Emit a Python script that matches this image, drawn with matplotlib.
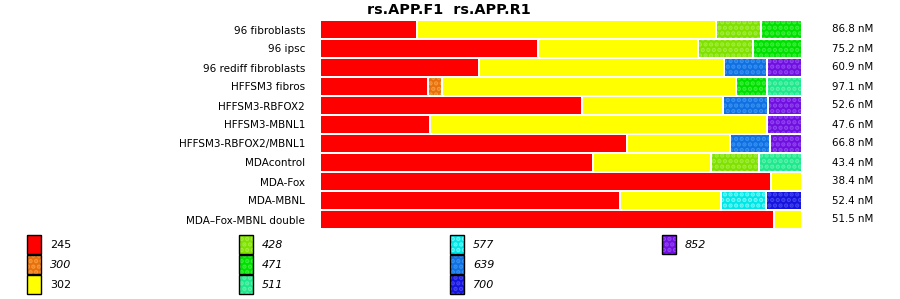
import matplotlib
matplotlib.use("Agg")
import matplotlib.pyplot as plt
from matplotlib.patches import Rectangle
import matplotlib.transforms as mtransforms

samples = ["96 fibroblasts", "96 ipsc", "96 rediff fibroblasts", "HFFSM3 fibros",
           "HFFSM3-RBFOX2", "HFFSM3-MBNL1", "HFFSM3-RBFOX2/MBNL1", "MDAcontrol",
           "MDA-Fox", "MDA-MBNL", "MDA\u2013Fox-MBNL double"]
concentrations = ["86.8 nM", "75.2 nM", "60.9 nM", "97.1 nM", "52.6 nM", "47.6 nM",
                  "66.8 nM", "43.4 nM", "38.4 nM", "52.4 nM", "51.5 nM"]

# percent of each product per sample, keyed by product size
segments = [
    [("245", 20.2), ("302", 62.3), ("428", 9.4), ("471", 8.1)],
    [("245", 45.4), ("302", 33.3), ("428", 11.5), ("471", 9.8)],
    [("245", 33.1), ("302", 51.0), ("639", 9.0), ("852", 6.9)],
    [("245", 22.5), ("300", 2.9), ("302", 61.3), ("471", 6.5), ("511", 6.8)],
    [("245", 54.6), ("302", 29.4), ("639", 9.4), ("852", 6.6)],
    [("245", 22.9), ("302", 70.2), ("852", 6.9)],
    [("245", 64.0), ("302", 21.5), ("639", 8.3), ("852", 6.2)],
    [("245", 56.9), ("302", 24.6), ("428", 10.0), ("511", 8.5)],
    [("245", 94.0), ("302", 6.0)],
    [("245", 62.5), ("302", 21.0), ("577", 9.4), ("700", 7.1)],
    [("245", 94.6), ("302", 5.4)],
]

products = ["245", "300", "302", "428", "471", "511", "577", "639", "700", "852"]
base_colors = {"245": "#ff0000", "300": "#e8700c", "302": "#ffff00", "428": "#80e000",
               "471": "#00e000", "511": "#1ee88c", "577": "#00e6e6", "639": "#1070e0",
               "700": "#1414dc", "852": "#7010e0"}
dot_colors = {"300": "#f59a3c", "428": "#a0ee3c", "471": "#3cee3c", "511": "#5cf2ac",
              "577": "#6cf6f6", "639": "#3890f2", "700": "#4444f0", "852": "#9044f0"}
patterned = set(dot_colors)

W, H = 900, 299
fig = plt.figure(figsize=(W / 100, H / 100), dpi=100)
x0, x1 = 321, 801
top, bot = 20, 229
ax = fig.add_axes([x0 / W, 1 - bot / H, (x1 - x0) / W, (bot - top) / H])
ax.set_xlim(0, 100)
ax.set_ylim(len(samples) - 0.5, -0.5)
gap = 2 / (x1 - x0) * 100
plt.rcParams['hatch.linewidth'] = 2.2
HATCH = "..."

for i, segs in enumerate(segments):
    total = sum(v for _, v in segs)
    cum = 0.0
    for j, (p, v) in enumerate(segs):
        v = v / total * 100
        w = v if j == len(segs) - 1 else v - gap
        if p in patterned:
            ax.barh(i, w, left=cum, height=0.9, color=base_colors[p],
                    edgecolor=dot_colors[p], linewidth=0, hatch=HATCH)
        else:
            ax.barh(i, w, left=cum, height=0.9, color=base_colors[p], linewidth=0)
        cum += v

ax.set_yticks(range(len(samples)))
ax.set_yticklabels(samples, fontsize=7.5)
ax.tick_params(axis="y", length=0, pad=11.5)
ax.set_xticks([])
for s in ax.spines.values():
    s.set_visible(False)

trans = mtransforms.blended_transform_factory(fig.transFigure, ax.transData)
for i, c in enumerate(concentrations):
    ax.text(832 / W, i, c, transform=trans, fontsize=7.4, va="center", ha="left")

fig.text(448.5 / W, 1 - 10 / H, "rs.APP.F1  rs.APP.R1", fontsize=10.4, fontweight="bold",
         ha="center", va="center")

# legend
lg = fig.add_axes([0, 0, 1, 1])
lg.set_xlim(0, W)
lg.set_ylim(H, 0)
lg.axis("off")
for k, p in enumerate(products):
    col, row = divmod(k, 3)
    bx = 27 + 211.5 * col
    by = 235 + 20 * row
    if p in patterned:
        lg.add_patch(Rectangle((bx, by), 14, 19, facecolor=base_colors[p],
                               edgecolor=dot_colors[p], hatch=HATCH, linewidth=0))
    else:
        lg.add_patch(Rectangle((bx, by), 14, 19, facecolor=base_colors[p], linewidth=0))
    lg.add_patch(Rectangle((bx, by), 14, 19, facecolor="none", edgecolor="black",
                           linewidth=1.0))
    lg.text(bx + 23, by + 10, p, fontsize=8, va="center", ha="left",
            style="italic" if p in patterned else "normal")

fig.savefig("out.png", dpi=100)
